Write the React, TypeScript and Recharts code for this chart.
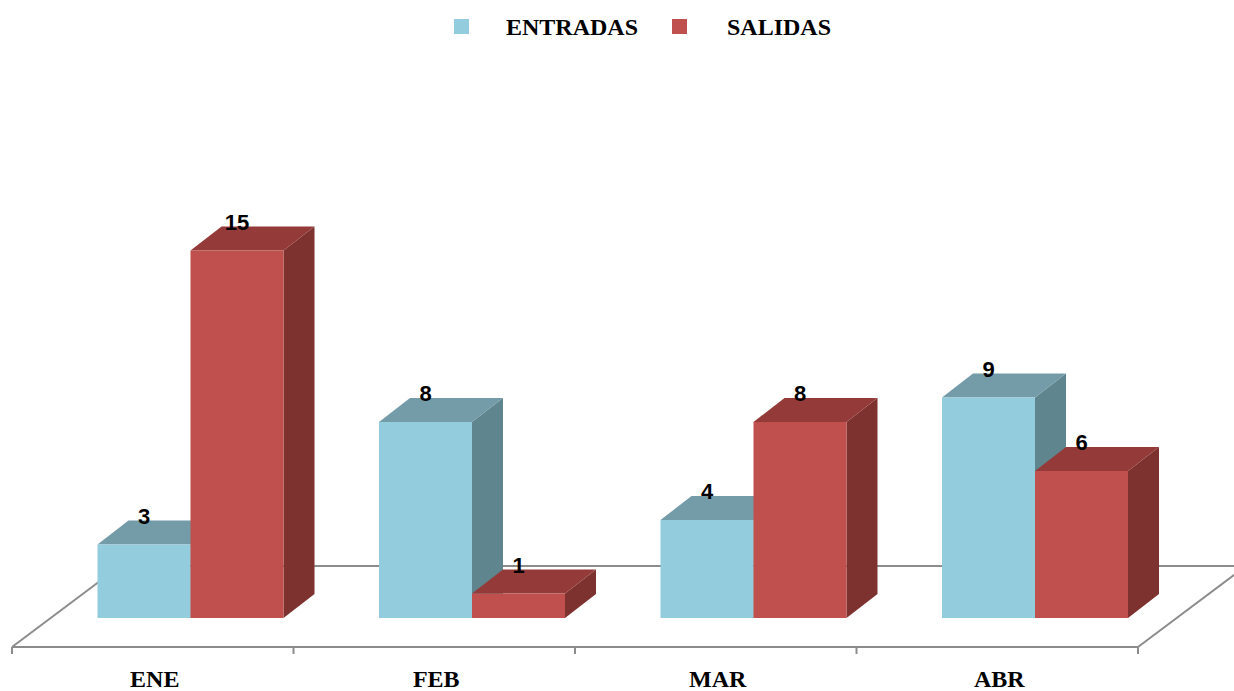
import React from 'react';
import { BarChart, Bar, XAxis, YAxis, LabelList, Customized } from 'recharts';

const months = ['ENE', 'FEB', 'MAR', 'ABR'];
const entradas = [3, 8, 4, 9];
const salidas = [15, 1, 8, 6];
const seriesNames = ['ENTRADAS', 'SALIDAS'];

const data = months.map((m, i) => ({ mes: m, entradas: entradas[i], salidas: salidas[i] }));

const W = 1234;
const H = 691;
const margin = { top: 157, right: 96, bottom: 0, left: 12 };
const axisH = 44;

// 3D look: how far back the bars sit on the floor, and the bar depth
const SHIFT_X = 37.5;
const SHIFT_Y = -29;
const DEPTH_X = 31;
const DEPTH_Y = -24;
const FLOOR_X = 108;
const FLOOR_Y = -81;

const colors = {
  entradas: { front: '#93CDDD', top: '#739BA8', side: '#5F858F' },
  salidas: { front: '#C0504D', top: '#943B39', side: '#7E3230' },
};

const serif = '"Liberation Serif", "Times New Roman", serif';
const sans = '"Liberation Sans", Arial, sans-serif';

function Box3D(props: any) {
  const { x, y, width, height, c } = props;
  if (width == null || height == null) return null;
  const x0 = x + SHIFT_X;
  const y0 = y + SHIFT_Y;
  const x1 = x0 + width;
  const y1 = y0 + height;
  return (
    <g>
      <polygon
        points={`${x1},${y0} ${x1 + DEPTH_X},${y0 + DEPTH_Y} ${x1 + DEPTH_X},${y1 + DEPTH_Y} ${x1},${y1}`}
        fill={c.side}
      />
      <polygon
        points={`${x0},${y0} ${x1},${y0} ${x1 + DEPTH_X},${y0 + DEPTH_Y} ${x0 + DEPTH_X},${y0 + DEPTH_Y}`}
        fill={c.top}
      />
      <rect x={x0} y={y0} width={width} height={height} fill={c.front} />
    </g>
  );
}

function BarLabel(props: any) {
  const { x, y, width, value } = props;
  return (
    <text
      x={x + SHIFT_X + width / 2}
      y={y + SHIFT_Y + DEPTH_Y + 3}
      textAnchor="middle"
      fontFamily={sans}
      fontWeight="bold"
      fontSize={22}
      fill="#000"
    >
      {value}
    </text>
  );
}

function Floor() {
  const left = margin.left;
  const right = W - margin.right;
  const base = H - axisH;
  const band = (right - left) / months.length;
  const stroke = '#8C8C8C';
  return (
    <g>
      <line x1={left} y1={base} x2={right} y2={base} stroke={stroke} strokeWidth={2} />
      <line x1={left} y1={base} x2={left + FLOOR_X} y2={base + FLOOR_Y} stroke={stroke} strokeWidth={2} />
      <line x1={right} y1={base} x2={right + FLOOR_X} y2={base + FLOOR_Y} stroke={stroke} strokeWidth={2} />
      <line x1={left + FLOOR_X} y1={base + FLOOR_Y} x2={right + FLOOR_X} y2={base + FLOOR_Y} stroke={stroke} strokeWidth={2} />
      {months.map((_, i) => (
        <line key={i} x1={left + i * band} y1={base} x2={left + i * band} y2={base + 7} stroke={stroke} strokeWidth={2} />
      ))}
      <line x1={right} y1={base} x2={right} y2={base + 7} stroke={stroke} strokeWidth={2} />
    </g>
  );
}

function LegendTop() {
  const items = [
    { name: seriesNames[0], color: colors.entradas.front, sq: 454, tx: 506 },
    { name: seriesNames[1], color: colors.salidas.front, sq: 672, tx: 727 },
  ];
  return (
    <g>
      {items.map((it) => (
        <g key={it.name}>
          <rect x={it.sq} y={19} width={15} height={15} fill={it.color} />
          <text x={it.tx} y={35} fontFamily={serif} fontWeight="bold" fontSize={24} fill="#000">
            {it.name}
          </text>
        </g>
      ))}
    </g>
  );
}

function MonthTick(props: any) {
  const { x, payload } = props;
  return (
    <text x={x + 2} y={H - 4} textAnchor="middle" fontFamily={serif} fontWeight="bold" fontSize={24} fill="#000">
      {payload.value}
    </text>
  );
}

export default function App() {
  return (
    <div style={{ position: 'fixed', left: 0, top: 0, width: W, height: H, background: '#fff' }}>
      <BarChart width={W} height={H} data={data} margin={margin} barGap={0} barSize={93}>
        <Customized component={<Floor />} />
        <Customized component={<LegendTop />} />
        <XAxis dataKey="mes" axisLine={false} tickLine={false} height={axisH} tick={<MonthTick />} interval={0} />
        <YAxis hide domain={[0, 20]} />
        <Bar dataKey="entradas" isAnimationActive={false} shape={(p: any) => <Box3D {...p} c={colors.entradas} />}>
          <LabelList dataKey="entradas" content={<BarLabel />} />
        </Bar>
        <Bar dataKey="salidas" isAnimationActive={false} shape={(p: any) => <Box3D {...p} c={colors.salidas} />}>
          <LabelList dataKey="salidas" content={<BarLabel />} />
        </Bar>
      </BarChart>
    </div>
  );
}
